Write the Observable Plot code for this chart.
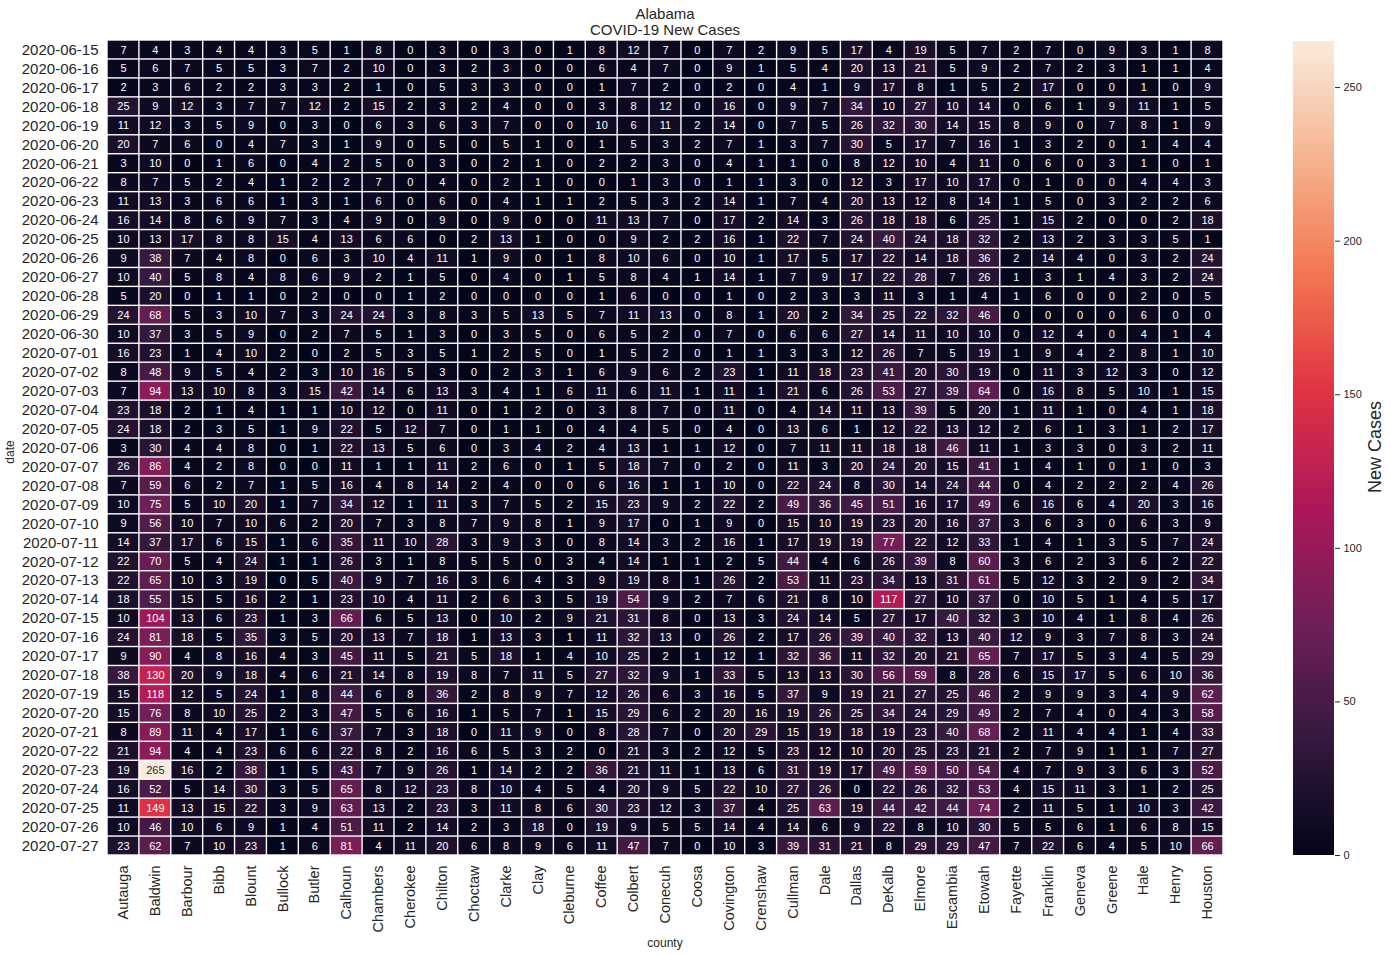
<!DOCTYPE html>
<html><head><meta charset="utf-8">
<script src="https://cdn.jsdelivr.net/npm/d3@7"></script>
<script src="https://cdn.jsdelivr.net/npm/@observablehq/plot@0.6"></script>
<style>
body{margin:0;background:#fff;font-family:"Liberation Sans",Arial,sans-serif;}
#wrap{position:relative;width:1391px;height:955px;overflow:hidden;}
#wrap svg{position:absolute;top:0;}
.abs{position:absolute;color:#262626;white-space:nowrap;line-height:1;}
</style></head><body><div id="wrap"></div>
<script>
const titleLines = ["Alabama", "COVID-19 New Cases"];
const counties = ["Autauga","Baldwin","Barbour","Bibb","Blount","Bullock","Butler","Calhoun","Chambers","Cherokee","Chilton","Choctaw","Clarke","Clay","Cleburne","Coffee","Colbert","Conecuh","Coosa","Covington","Crenshaw","Cullman","Dale","Dallas","DeKalb","Elmore","Escambia","Etowah","Fayette","Franklin","Geneva","Greene","Hale","Henry","Houston"];
const dates = ["2020-06-15","2020-06-16","2020-06-17","2020-06-18","2020-06-19","2020-06-20","2020-06-21","2020-06-22","2020-06-23","2020-06-24","2020-06-25","2020-06-26","2020-06-27","2020-06-28","2020-06-29","2020-06-30","2020-07-01","2020-07-02","2020-07-03","2020-07-04","2020-07-05","2020-07-06","2020-07-07","2020-07-08","2020-07-09","2020-07-10","2020-07-11","2020-07-12","2020-07-13","2020-07-14","2020-07-15","2020-07-16","2020-07-17","2020-07-18","2020-07-19","2020-07-20","2020-07-21","2020-07-22","2020-07-23","2020-07-24","2020-07-25","2020-07-26","2020-07-27"];
// one row per date, values in county order
const casesByDate = [
[7,4,3,4,4,3,5,1,8,0,3,0,3,0,1,8,12,7,0,7,2,9,5,17,4,19,5,7,2,7,0,9,3,1,8],
[5,6,7,5,5,3,7,2,10,0,3,2,3,0,0,6,4,7,0,9,1,5,4,20,13,21,5,9,2,7,2,3,1,1,4],
[2,3,6,2,2,3,3,2,1,0,5,3,3,0,0,1,7,2,0,2,0,4,1,9,17,8,1,5,2,17,0,0,1,0,9],
[25,9,12,3,7,7,12,2,15,2,3,2,4,0,0,3,8,12,0,16,0,9,7,34,10,27,10,14,0,6,1,9,11,1,5],
[11,12,3,5,9,0,3,0,6,3,6,3,7,0,0,10,6,11,2,14,0,7,5,26,32,30,14,15,8,9,0,7,8,1,9],
[20,7,6,0,4,7,3,1,9,0,5,0,5,1,0,1,5,3,2,7,1,3,7,30,5,17,7,16,1,3,2,0,1,4,4],
[3,10,0,1,6,0,4,2,5,0,3,0,2,1,0,2,2,3,0,4,1,1,0,8,12,10,4,11,0,6,0,3,1,0,1],
[8,7,5,2,4,1,2,2,7,0,4,0,2,1,0,0,1,3,0,1,1,3,0,12,3,17,10,17,0,1,0,0,4,4,3],
[11,13,3,6,6,1,3,1,6,0,6,0,4,1,1,2,5,3,2,14,1,7,4,20,13,12,8,14,1,5,0,3,2,2,6],
[16,14,8,6,9,7,3,4,9,0,9,0,9,0,0,11,13,7,0,17,2,14,3,26,18,18,6,25,1,15,2,0,0,2,18],
[10,13,17,8,8,15,4,13,6,6,0,2,13,1,0,0,9,2,2,16,1,22,7,24,40,24,18,32,2,13,2,3,3,5,1],
[9,38,7,4,8,0,6,3,10,4,11,1,9,0,1,8,10,6,0,10,1,17,5,17,22,14,18,36,2,14,4,0,3,2,24],
[10,40,5,8,4,8,6,9,2,1,5,0,4,0,1,5,8,4,1,14,1,7,9,17,22,28,7,26,1,3,1,4,3,2,24],
[5,20,0,1,1,0,2,0,0,1,2,0,0,0,0,1,6,0,0,1,0,2,3,3,11,3,1,4,1,6,0,0,2,0,5],
[24,68,5,3,10,7,3,24,24,3,8,3,5,13,5,7,11,13,0,8,1,20,2,34,25,22,32,46,0,0,0,0,6,0,0],
[10,37,3,5,9,0,2,7,5,1,3,0,3,5,0,6,5,2,0,7,0,6,6,27,14,11,10,10,0,12,4,0,4,1,4],
[16,23,1,4,10,2,0,2,5,3,5,1,2,5,0,1,5,2,0,1,1,3,3,12,26,7,5,19,1,9,4,2,8,1,10],
[8,48,9,5,4,2,3,10,16,5,3,0,2,3,1,6,9,6,2,23,1,11,18,23,41,20,30,19,0,11,3,12,3,0,12],
[7,94,13,10,8,3,15,42,14,6,13,3,4,1,6,11,6,11,1,11,1,21,6,26,53,27,39,64,0,16,8,5,10,1,15],
[23,18,2,1,4,1,1,10,12,0,11,0,1,2,0,3,8,7,0,11,0,4,14,11,13,39,5,20,1,11,1,0,4,1,18],
[24,18,2,3,5,1,9,22,5,12,7,0,1,1,0,4,4,5,0,4,0,13,6,1,12,22,13,12,2,6,1,3,1,2,17],
[3,30,4,4,8,0,1,22,13,5,6,0,3,4,2,4,13,1,1,12,0,7,11,11,18,18,46,11,1,3,3,0,3,2,11],
[26,86,4,2,8,0,0,11,1,1,11,2,6,0,1,5,18,7,0,2,0,11,3,20,24,20,15,41,1,4,1,0,1,0,3],
[7,59,6,2,7,1,5,16,4,8,14,2,4,0,0,6,16,1,1,10,0,22,24,8,30,14,24,44,0,4,2,2,2,4,26],
[10,75,5,10,20,1,7,34,12,1,11,3,7,5,2,15,23,9,2,22,2,49,36,45,51,16,17,49,6,16,6,4,20,3,16],
[9,56,10,7,10,6,2,20,7,3,8,7,9,8,1,9,17,0,1,9,0,15,10,19,23,20,16,37,3,6,3,0,6,3,9],
[14,37,17,6,15,1,6,35,11,10,28,3,9,3,0,8,14,3,2,16,1,17,19,19,77,22,12,33,1,4,1,3,5,7,24],
[22,70,5,4,24,1,1,26,3,1,8,5,5,0,3,4,14,1,1,2,5,44,4,6,26,39,8,60,3,6,2,3,6,2,22],
[22,65,10,3,19,0,5,40,9,7,16,3,6,4,3,9,19,8,1,26,2,53,11,23,34,13,31,61,5,12,3,2,9,2,34],
[18,55,15,5,16,2,1,23,10,4,11,2,6,3,5,19,54,9,2,7,6,21,8,10,117,27,10,37,0,10,5,1,4,5,17],
[10,104,13,6,23,1,3,66,6,5,13,0,10,2,9,21,31,8,0,13,3,24,14,5,27,17,40,32,3,10,4,1,8,4,26],
[24,81,18,5,35,3,5,20,13,7,18,1,13,3,1,11,32,13,0,26,2,17,26,39,40,32,13,40,12,9,3,7,8,3,24],
[9,90,4,8,16,4,3,45,11,5,21,5,18,1,4,10,25,2,1,12,1,32,36,11,32,20,21,65,7,17,5,3,4,5,29],
[38,130,20,9,18,4,6,21,14,8,19,8,7,11,5,27,32,9,1,33,5,13,13,30,56,59,8,28,6,15,17,5,6,10,36],
[15,118,12,5,24,1,8,44,6,8,36,2,8,9,7,12,26,6,3,16,5,37,9,19,21,27,25,46,2,9,9,3,4,9,62],
[15,76,8,10,25,2,3,47,5,6,16,1,5,7,1,15,29,6,2,20,16,19,26,25,34,24,29,49,2,7,4,0,4,3,58],
[8,89,11,4,17,1,6,37,7,3,18,0,11,9,0,8,28,7,0,20,29,15,19,18,19,23,40,68,2,11,4,4,1,4,33],
[21,94,4,4,23,6,6,22,8,2,16,6,5,3,2,0,21,3,2,12,5,23,12,10,20,25,23,21,2,7,9,1,1,7,27],
[19,265,16,2,38,1,5,43,7,9,26,1,14,2,2,36,21,11,1,13,6,31,19,17,49,59,50,54,4,7,9,3,6,3,52],
[16,52,5,14,30,3,5,65,8,12,23,8,10,4,5,4,20,9,5,22,10,27,26,0,22,26,32,53,4,15,11,3,1,2,25],
[11,149,13,15,22,3,9,63,13,2,23,3,11,8,6,30,23,12,3,37,4,25,63,19,44,42,44,74,2,11,5,1,10,3,42],
[10,46,10,6,9,1,4,51,11,2,14,2,3,18,0,19,9,5,5,14,4,14,6,9,22,8,10,30,5,5,6,1,6,8,15],
[23,62,7,10,23,1,6,81,4,11,20,6,8,9,6,11,47,7,0,10,3,39,31,21,8,29,29,47,7,22,6,4,5,10,66]
];
const colorbarTicks = [0, 50, 100, 150, 200, 250];
const xLabel = "county", yLabel = "date", colorLabel = "New Cases";
// seaborn "rocket" colormap stops (evenly spaced)
const rocketStops = ["#03051a","#35193e","#701f57","#ad1759","#e13342","#f37651","#f6b48f","#faebdd"];

const rows = dates.flatMap((d, i) => counties.map((c, j) => ({date: d, county: c, value: casesByDate[i][j]})));
const vmax = d3.max(rows, d => d.value);
const colorScale = {type: "linear", domain: [0, vmax], interpolate: d3.piecewise(d3.interpolateRgb, rocketStops)};
const font = '"Liberation Sans", Arial, sans-serif';
const wrap = document.getElementById("wrap");

const main = Plot.plot({
  width: 1240, height: 955,
  marginTop: 40, marginBottom: 100, marginLeft: 107, marginRight: 17,
  style: {fontFamily: font, fontSize: "15px", color: "#262626", background: "white"},
  x: {type: "band", domain: counties, padding: 0, label: null},
  y: {type: "band", domain: dates, padding: 0, label: null},
  color: colorScale,
  marks: [
    Plot.cell(rows, {x: "county", y: "date", fill: "value", inset: 0.7}),
    Plot.text(rows, {filter: d => d.value <= vmax * 0.75, x: "county", y: "date", text: d => String(d.value), fill: "white", fontSize: 11}),
    Plot.text(rows, {filter: d => d.value > vmax * 0.75, x: "county", y: "date", text: d => String(d.value), fill: "#262626", fontSize: 11}),
    Plot.axisX({tickSize: 0, tickPadding: 10, tickRotate: -90, fontSize: 14.5, label: null}),
    Plot.axisY({tickSize: 0, tickPadding: 9, label: null})
  ]
});
main.style.left = "0px";
wrap.appendChild(main);

const bar = Plot.plot({
  width: 131, height: 955,
  marginTop: 41, marginBottom: 100, marginLeft: 33, marginRight: 57,
  style: {fontFamily: font, fontSize: "11px", color: "#262626", background: "transparent"},
  x: {domain: [0, 1], axis: null},
  y: {domain: [0, vmax], label: null},
  color: colorScale,
  marks: [
    Plot.rect(d3.range(0, vmax), {x1: 0, x2: 1, y1: d => d, y2: d => Math.min(vmax, d + 1.3), fill: d => d + 0.5, shapeRendering: "crispEdges"}),
    Plot.axisY({anchor: "right", ticks: colorbarTicks, tickSize: 5, tickPadding: 4, label: null})
  ]
});
bar.style.left = "1260px";
wrap.appendChild(bar);

function addText(txt, x, y, size, rotate) {
  const el = document.createElement("div");
  el.className = "abs";
  el.textContent = txt;
  el.style.left = x + "px";
  el.style.top = y + "px";
  el.style.fontSize = size + "px";
  el.style.transform = "translate(-50%,-50%)" + (rotate ? " rotate(-90deg)" : "");
  wrap.appendChild(el);
}
addText(titleLines[0], 665, 13, 15, false);
addText(titleLines[1], 665, 29, 15, false);
addText(yLabel, 10, 452, 12, true);
addText(xLabel, 665, 943, 12, false);
addText(colorLabel, 1375, 447, 18, true);
</script></body></html>
